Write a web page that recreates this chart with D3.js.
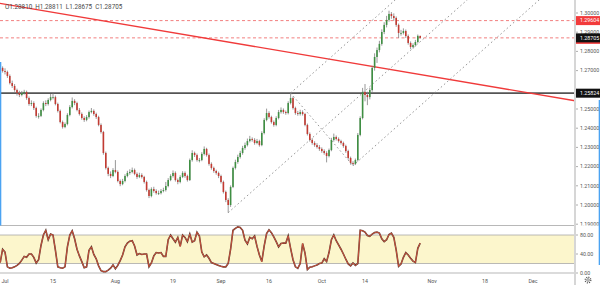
<!DOCTYPE html>
<html>
<head>
<meta charset="utf-8">
<script src="https://cdnjs.cloudflare.com/ajax/libs/d3/7.8.5/d3.min.js"></script>
<style>
  body { margin: 0; background: #fff; }
  svg { display: block; font-family: Roboto, "DejaVu Sans", sans-serif; }
</style>
</head>
<body>
<script>
// GBPUSD, half-day candles. candle k sits at trading day (k - 2) / 2, day 0 = Jul 1
var firstOpen = 1.2705;
var closes = [
  1.2714,1.2698,1.2693,1.2672,1.2635,1.2620,1.2599,1.2583,1.2573,1.2583,
  1.2589,1.2557,1.2526,1.2531,1.2505,1.2464,1.2464,1.2495,1.2531,1.2526,
  1.2547,1.2562,1.2562,1.2526,1.2490,1.2432,1.2406,1.2422,1.2469,1.2510,
  1.2542,1.2531,1.2495,1.2474,1.2453,1.2443,1.2458,1.2484,1.2490,1.2474,
  1.2458,1.2417,1.2380,1.2271,1.2193,1.2162,1.2151,1.2182,1.2172,1.2125,
  1.2109,1.2125,1.2151,1.2167,1.2172,1.2182,1.2162,1.2146,1.2156,1.2146,
  1.2120,1.2078,1.2047,1.2083,1.2073,1.2062,1.2062,1.2073,1.2078,1.2099,
  1.2130,1.2151,1.2167,1.2130,1.2120,1.2146,1.2167,1.2151,1.2130,1.2234,
  1.2271,1.2260,1.2234,1.2234,1.2266,1.2292,1.2260,1.2214,1.2193,1.2177,
  1.2167,1.2151,1.2120,1.2068,1.2026,1.2000,1.2094,1.2193,1.2224,1.2250,
  1.2271,1.2297,1.2312,1.2333,1.2344,1.2339,1.2323,1.2333,1.2312,1.2375,
  1.2443,1.2479,1.2458,1.2432,1.2417,1.2453,1.2484,1.2495,1.2484,1.2479,
  1.2531,1.2557,1.2505,1.2479,1.2474,1.2484,1.2474,1.2417,1.2370,1.2339,
  1.2323,1.2312,1.2302,1.2292,1.2281,1.2271,1.2255,1.2286,1.2339,1.2354,
  1.2344,1.2333,1.2323,1.2307,1.2281,1.2245,1.2219,1.2214,1.2234,1.2365,
  1.2453,1.2589,1.2573,1.2562,1.2599,1.2714,1.2771,1.2807,1.2839,1.2901,
  1.2938,1.2964,1.2995,1.2984,1.2974,1.2938,1.2896,1.2896,1.2906,1.2880,
  1.2844,1.2823,1.2833,1.2849,1.2881,1.28705
];
var highs = [
  1.2730,1.2722,1.2712,1.2700,1.2680,1.2648,1.2630,1.2606,1.2595,1.2594,
  1.2600,1.2596,1.2565,1.2545,1.2540,1.2512,1.2478,1.2503,1.2540,1.2545,
  1.2556,1.2578,1.2582,1.2570,1.2533,1.2497,1.2440,1.2430,1.2478,1.2520,
  1.2560,1.2551,1.2538,1.2505,1.2482,1.2462,1.2468,1.2492,1.2505,1.2498,
  1.2481,1.2465,1.2425,1.2386,1.2278,1.2200,1.2175,1.2192,1.2234,1.2180,
  1.2133,1.2136,1.2160,1.2178,1.2186,1.2195,1.2190,1.2170,1.2168,1.2165,
  1.2152,1.2127,1.2085,1.2092,1.2095,1.2082,1.2075,1.2083,1.2090,1.2120,
  1.2140,1.2160,1.2180,1.2175,1.2138,1.2155,1.2176,1.2175,1.2158,1.2242,
  1.2285,1.2278,1.2268,1.2245,1.2275,1.2305,1.2298,1.2268,1.2222,1.2200,
  1.2184,1.2174,1.2158,1.2127,1.2075,1.2035,1.2102,1.2200,1.2236,1.2262,
  1.2282,1.2308,1.2325,1.2346,1.2360,1.2352,1.2348,1.2344,1.2340,1.2384,
  1.2452,1.2502,1.2488,1.2465,1.2440,1.2462,1.2495,1.2508,1.2503,1.2492,
  1.2540,1.2583,1.2565,1.2512,1.2490,1.2496,1.2493,1.2480,1.2424,1.2378,
  1.2348,1.2332,1.2322,1.2312,1.2300,1.2290,1.2280,1.2294,1.2350,1.2372,
  1.2362,1.2352,1.2340,1.2330,1.2314,1.2288,1.2252,1.2228,1.2242,1.2375,
  1.2462,1.2610,1.2630,1.2590,1.2610,1.2725,1.2790,1.2820,1.2855,1.2915,
  1.2952,1.2985,1.3012,1.3005,1.2998,1.2982,1.2945,1.2912,1.2920,1.2914,
  1.2888,1.2852,1.2842,1.2860,1.2888,1.28811
];
var lows = [
  1.2698,1.2690,1.2680,1.2662,1.2628,1.2610,1.2590,1.2570,1.2562,1.2566,
  1.2575,1.2548,1.2517,1.2515,1.2495,1.2455,1.2450,1.2458,1.2488,1.2515,
  1.2518,1.2540,1.2550,1.2519,1.2482,1.2425,1.2398,1.2400,1.2415,1.2462,
  1.2503,1.2520,1.2488,1.2466,1.2444,1.2433,1.2436,1.2450,1.2477,1.2465,
  1.2448,1.2410,1.2372,1.2262,1.2185,1.2150,1.2140,1.2145,1.2165,1.2118,
  1.2098,1.2103,1.2118,1.2144,1.2158,1.2165,1.2155,1.2136,1.2140,1.2138,
  1.2112,1.2070,1.2036,1.2040,1.2064,1.2054,1.2052,1.2055,1.2066,1.2070,
  1.2092,1.2124,1.2143,1.2122,1.2108,1.2113,1.2140,1.2142,1.2122,1.2125,
  1.2226,1.2250,1.2226,1.2222,1.2228,1.2258,1.2252,1.2205,1.2184,1.2168,
  1.2158,1.2140,1.2112,1.2060,1.2015,1.1960,1.1990,1.2088,1.2185,1.2215,
  1.2242,1.2262,1.2288,1.2305,1.2326,1.2330,1.2314,1.2316,1.2304,1.2306,
  1.2368,1.2436,1.2450,1.2424,1.2408,1.2410,1.2446,1.2476,1.2475,1.2470,
  1.2472,1.2524,1.2497,1.2470,1.2465,1.2466,1.2466,1.2410,1.2362,1.2330,
  1.2314,1.2303,1.2294,1.2282,1.2272,1.2262,1.2222,1.2248,1.2280,1.2330,
  1.2336,1.2325,1.2315,1.2298,1.2272,1.2236,1.2210,1.2205,1.2208,1.2228,
  1.2358,1.2446,1.2540,1.2520,1.2550,1.2590,1.2700,1.2740,1.2795,1.2830,
  1.2890,1.2925,1.2955,1.2970,1.2960,1.2928,1.2870,1.2882,1.2888,1.2870,
  1.2835,1.2812,1.2815,1.2825,1.2842,1.28675
];
// oscillator in the lower pane, one value per candle
var stoch = [
  22,50,44,13,10,11,13,16,20,27,
  35,33,40,40,33,21,28,58,80,90,
  70,82,80,48,13,11,10,13,55,80,
  89,72,50,36,24,11,13,48,55,39,
  30,15,5,3,3,6,10,17,9,16,
  26,38,55,63,67,68,57,38,41,39,
  40,40,13,21,36,43,42,43,35,35,
  70,80,72,65,75,56,80,75,66,82,
  65,68,86,78,44,34,38,31,22,20,
  18,16,14,13,13,20,50,90,94,97,
  96,90,69,61,75,72,78,56,38,24,
  57,83,91,85,76,66,55,62,63,63,
  78,52,28,13,10,20,62,42,7,12,
  13,15,17,20,21,30,24,43,70,80,
  68,59,50,40,29,19,15,21,16,20,
  90,89,86,79,77,82,85,86,84,72,
  66,70,81,84,75,48,14,19,33,43,
  38,31,25,22,52,63
];

var timeTicks = [0, 10, 23, 35, 45, 55, 66, 75, 89, 100, 110];
var timeLabels = ["Jul", "15", "Aug", "19", "Sep", "16", "Oct", "14", "Nov", "18", "Dec"];
// 1.26000 sits under the 1.25824 tag in the reference, so it is left out
var priceTicks = [1.19, 1.20, 1.21, 1.22, 1.23, 1.24, 1.25, 1.27, 1.28, 1.29, 1.30];
var stochTicks = [0, 40, 80];
var stochBand = [20, 80];

var supportLevel = 1.25824;
var resistLevel = 1.29604;
var lastPrice = 1.28705;
var header = "O1.28810  H1.28811  L1.28675  C1.28705";

// red trend line anchors [trading day, price]
var trendLine = [[-1, 1.3050], [109.4, 1.25824]];
// pitchfork: pivot low, swing high, swing low [trading day, price]
var pitchfork = [[46.5, 1.1960], [59.5, 1.2583], [72.5, 1.2205]];

var W = 600, H = 285;
var plotRight = 575;
var mainBottom = 225.5;
var subTop = 225.5, subBottom = 273;

var svg = d3.select("body").append("svg")
  .attr("width", W)
  .attr("height", H);

svg.append("rect").attr("width", W).attr("height", H).attr("fill", "#fff");

var xScale = d3.scaleLinear().domain([0, 110]).range([5, 533]);
var yScale = d3.scaleLinear().domain([1.20, 1.30]).range([205, 13]);
var sScale = d3.scaleLinear().domain([0, 100]).range([subBottom, subTop]);

function candleX(k) { return xScale((k - 2) / 2); }

var defs = svg.append("defs");
defs.append("clipPath").attr("id", "mainClip")
  .append("rect").attr("x", 0).attr("y", 0).attr("width", plotRight).attr("height", mainBottom);
defs.append("clipPath").attr("id", "subClip")
  .append("rect").attr("x", 0).attr("y", subTop).attr("width", plotRight).attr("height", subBottom - subTop);
defs.append("clipPath").attr("id", "axisClip")
  .append("rect").attr("x", plotRight).attr("y", 0).attr("width", 25).attr("height", mainBottom);

var main = svg.append("g").attr("clip-path", "url(#mainClip)");

// header
svg.append("text")
  .attr("x", 5).attr("y", 9)
  .attr("font-size", 6.3)
  .attr("fill", "#4a4a4a")
  .style("white-space", "pre")
  .text(header);

// horizontal levels
main.append("line")
  .attr("x1", 0).attr("x2", plotRight)
  .attr("y1", yScale(supportLevel)).attr("y2", yScale(supportLevel))
  .attr("stroke", "#555").attr("stroke-width", 1.8);

[resistLevel, lastPrice].forEach(function(p) {
  main.append("line")
    .attr("x1", 0).attr("x2", plotRight)
    .attr("y1", yScale(p)).attr("y2", yScale(p))
    .attr("stroke", "#f07070").attr("stroke-width", 0.9)
    .attr("stroke-dasharray", "3,2.5");
});

// red trend line, extended over the whole pane
var t0 = trendLine[0], t1 = trendLine[1];
var tx0 = xScale(t0[0]), ty0 = yScale(t0[1]);
var tx1 = xScale(t1[0]), ty1 = yScale(t1[1]);
var tSlope = (ty1 - ty0) / (tx1 - tx0);
main.append("line")
  .attr("x1", 0).attr("y1", ty0 + tSlope * (0 - tx0))
  .attr("x2", plotRight).attr("y2", ty0 + tSlope * (plotRight - tx0))
  .attr("stroke", "#f03a3a").attr("stroke-width", 1.3);

// pitchfork
var pv = pitchfork.map(function(d) { return [xScale(d[0]), yScale(d[1])]; });
var mid = [(pv[1][0] + pv[2][0]) / 2, (pv[1][1] + pv[2][1]) / 2];
var dx = mid[0] - pv[0][0], dy = mid[1] - pv[0][1];
var far = 10;
[pv[0], pv[1], pv[2]].forEach(function(p) {
  main.append("line")
    .attr("x1", p[0]).attr("y1", p[1])
    .attr("x2", p[0] + dx * far).attr("y2", p[1] + dy * far)
    .attr("stroke", "#8c8c8c").attr("stroke-width", 0.9)
    .attr("stroke-dasharray", "1.6,2.6");
});
main.append("line")
  .attr("x1", pv[1][0]).attr("y1", pv[1][1])
  .attr("x2", pv[2][0]).attr("y2", pv[2][1])
  .attr("stroke", "#8c8c8c").attr("stroke-width", 0.9)
  .attr("stroke-dasharray", "1.6,2.6");

// candles
var candles = closes.map(function(c, k) {
  return { k: k, o: k == 0 ? firstOpen : closes[k - 1], h: highs[k], l: lows[k], c: c };
});

main.selectAll(".wick").data(candles).enter().append("line")
  .attr("class", "wick")
  .attr("x1", function(d) { return candleX(d.k); })
  .attr("x2", function(d) { return candleX(d.k); })
  .attr("y1", function(d) { return yScale(d.h); })
  .attr("y2", function(d) { return yScale(d.l); })
  .attr("stroke", "#7d7d7d").attr("stroke-width", 0.8);

main.selectAll(".body").data(candles).enter().append("rect")
  .attr("class", "body")
  .attr("x", function(d) { return candleX(d.k) - 0.8; })
  .attr("width", 1.6)
  .attr("y", function(d) { return yScale(Math.max(d.o, d.c)); })
  .attr("height", function(d) { return Math.max(0.8, Math.abs(yScale(d.o) - yScale(d.c))); })
  .attr("fill", function(d) { return d.c >= d.o ? "#3f8f43" : "#c23b32"; });

// price axis
svg.append("rect")
  .attr("x", plotRight - 1).attr("y", 0)
  .attr("width", 2).attr("height", H)
  .attr("fill", "#d6d6d6");

var axisG = svg.append("g").attr("clip-path", "url(#axisClip)");
priceTicks.forEach(function(p) {
  axisG.append("line")
    .attr("x1", plotRight + 1).attr("x2", plotRight + 3)
    .attr("y1", yScale(p)).attr("y2", yScale(p))
    .attr("stroke", "#777").attr("stroke-width", 0.6);
  axisG.append("text")
    .attr("x", plotRight + 5).attr("y", yScale(p))
    .attr("dy", "0.35em")
    .attr("font-size", 5.3)
    .attr("fill", "#555")
    .text(d3.format(".5f")(p));
});

function priceTag(p, bg, dyOff) {
  svg.append("rect")
    .attr("x", plotRight + 1).attr("y", yScale(p) - 4.5 + (dyOff || 0))
    .attr("width", W - plotRight - 1).attr("height", 9)
    .attr("fill", bg);
}
function priceTagText(p) {
  svg.append("text")
    .attr("x", plotRight + 5).attr("y", yScale(p))
    .attr("dy", "0.35em")
    .attr("font-size", 5.3)
    .attr("fill", "#fff")
    .text(d3.format(".5f")(p));
}
priceTag(resistLevel, "#f23b3b");
priceTagText(resistLevel);
priceTag(lastPrice, "#f23b3b", 1.5);
priceTag(lastPrice, "#111");
priceTagText(lastPrice);
priceTag(supportLevel, "#111");
priceTagText(supportLevel);

// lower pane
svg.append("rect")
  .attr("x", 0).attr("y", sScale(stochBand[1]))
  .attr("width", plotRight - 1)
  .attr("height", sScale(stochBand[0]) - sScale(stochBand[1]))
  .attr("fill", "#fcf6cc");

[subTop, subBottom, sScale(stochBand[0]), sScale(stochBand[1])].forEach(function(y, i) {
  svg.append("line")
    .attr("x1", 0).attr("x2", plotRight - 1)
    .attr("y1", y).attr("y2", y)
    .attr("stroke", i < 2 ? "#b8b8b8" : "#a8a8a8")
    .attr("stroke-width", i < 2 ? 1.2 : 0.8);
});

var sub = svg.append("g").attr("clip-path", "url(#subClip)");
var stochLine = d3.line()
  .x(function(d, k) { return candleX(k); })
  .y(function(d) { return sScale(d); });

sub.append("path").datum(stoch)
  .attr("d", stochLine)
  .attr("fill", "none")
  .attr("stroke", "#5c3a30").attr("stroke-width", 1.6);
sub.append("path").datum(stoch)
  .attr("d", stochLine)
  .attr("fill", "none")
  .attr("stroke", "#e2553f").attr("stroke-width", 0.8);

stochTicks.forEach(function(v) {
  svg.append("line")
    .attr("x1", plotRight + 1).attr("x2", plotRight + 3)
    .attr("y1", sScale(v)).attr("y2", sScale(v))
    .attr("stroke", "#777").attr("stroke-width", 0.6);
  svg.append("text")
    .attr("x", plotRight + 5).attr("y", sScale(v))
    .attr("dy", "0.35em")
    .attr("font-size", 5.3)
    .attr("fill", "#555")
    .text(d3.format(".2f")(v));
});

// time axis
timeTicks.forEach(function(t, i) {
  svg.append("text")
    .attr("x", xScale(t)).attr("y", 283)
    .attr("text-anchor", "middle")
    .attr("font-size", 5.3)
    .attr("fill", "#555")
    .text(timeLabels[i]);
});

// settings gear
var gear = svg.append("g").attr("transform", "translate(588,280)");
gear.append("circle").attr("r", 2.8)
  .attr("fill", "none").attr("stroke", "#555").attr("stroke-width", 1.3)
  .attr("stroke-dasharray", "1.1,1.1");
gear.append("circle").attr("r", 1.3)
  .attr("fill", "none").attr("stroke", "#555").attr("stroke-width", 0.7);

// selection edges
svg.append("rect").attr("x", 0).attr("y", 62).attr("width", 1.3).attr("height", mainBottom - 62).attr("fill", "#4ba3f2");
svg.append("rect").attr("x", W - 1.3).attr("y", 100).attr("width", 1.3).attr("height", 165).attr("fill", "#4ba3f2");
</script>
</body>
</html>
